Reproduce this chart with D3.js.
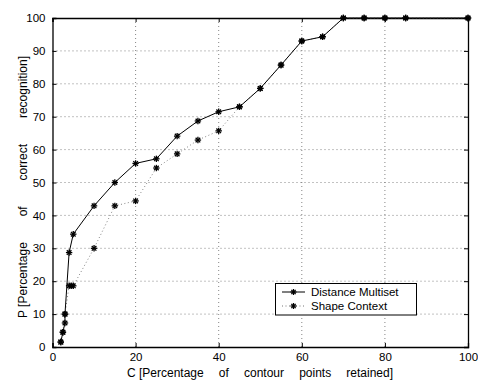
<!DOCTYPE html>
<html><head><meta charset="utf-8">
<script src="https://cdn.jsdelivr.net/npm/d3@7"></script>
<style>body{margin:0;background:#fff}svg{display:block}text{font-family:"Liberation Sans",Arial,sans-serif;fill:#000}</style>
</head><body><svg id="c" width="478" height="381"></svg>
<script>
const dmX = [2, 2.5, 3, 3, 4, 5, 10, 15, 20, 25, 30, 35, 40, 45, 50, 55, 60, 65, 70, 75, 80, 85, 100];
const dmY = [1.5, 4.5, 7.3, 10, 28.7, 34.3, 42.9, 50, 55.8, 57.2, 64.1, 68.7, 71.5, 73.0, 78.6, 85.7, 93.0, 94.3, 100, 100, 100, 100, 100];
const scX = [2, 2.5, 3, 4, 4.5, 5, 10, 15, 20, 25, 30, 35, 40, 45, 50, 55, 60, 65, 70, 75, 80, 85, 100];
const scY = [1.5, 4.5, 10, 18.6, 18.6, 18.6, 30, 42.9, 44.4, 54.4, 58.7, 62.9, 65.7, 73.0, 78.6, 85.7, 93.0, 94.3, 100, 100, 100, 100, 100];
const xTicks = [0, 20, 40, 60, 80, 100];
const yTicks = [0, 10, 20, 30, 40, 50, 60, 70, 80, 90, 100];
const seriesNames = ["Distance Multiset", "Shape Context"];
const xLabelWords = ["C [Percentage", "of", "contour", "points", "retained]"];
const yLabelWords = ["P [Percentage", "of", "correct", "recognition]"];

const svg = d3.select("#c");
const L = 52.5, R = 468, T = 18, B = 347;
const x = d3.scaleLinear().domain([0, 100]).range([L, R]);
const y = d3.scaleLinear().domain([0, 100]).range([B, T]);

// grid
const g = svg.append("g");
xTicks.slice(1, -1).forEach(t => g.append("line").attr("x1", x(t)).attr("x2", x(t)).attr("y1", T).attr("y2", B)
  .attr("stroke", "#666").attr("stroke-width", 0.8).attr("stroke-dasharray", "1,3"));
yTicks.slice(1, -1).forEach(t => g.append("line").attr("x1", L).attr("x2", R).attr("y1", y(t)).attr("y2", y(t))
  .attr("stroke", "#666").attr("stroke-width", 0.8).attr("stroke-dasharray", "1,3"));

// axes
const xa = svg.append("g").attr("transform", `translate(0,${B})`)
  .call(d3.axisBottom(x).tickValues(xTicks).tickSize(-4).tickPadding(6).tickFormat(d3.format("d")));
const ya = svg.append("g").attr("transform", `translate(${L},0)`)
  .call(d3.axisLeft(y).tickValues(yTicks).tickSize(-4).tickPadding(7).tickFormat(d3.format("d")));
const xt = svg.append("g").attr("transform", `translate(0,${T})`)
  .call(d3.axisTop(x).tickValues(xTicks).tickSize(-4).tickFormat(""));
const yr = svg.append("g").attr("transform", `translate(${R},0)`)
  .call(d3.axisRight(y).tickValues(yTicks).tickSize(-4).tickFormat(""));
[xa, ya, xt, yr].forEach(a => {
  a.select(".domain").attr("stroke", "#000").attr("stroke-width", 1.3);
  a.selectAll(".tick line").attr("stroke", "#000");
  a.selectAll("text").style("font-size", "11.5px").style("font-family", '"Liberation Sans",Arial,sans-serif');
});

// marker
function star(sel, cx, cy, r) {
  const gg = sel.append("g").attr("transform", `translate(${cx},${cy})`);
  const a = r * 0.72;
  [[-r,0,r,0],[0,-r,0,r],[-a,-a,a,a],[-a,a,a,-a]].forEach(p =>
    gg.append("line").attr("x1", p[0]).attr("y1", p[1]).attr("x2", p[2]).attr("y2", p[3])
      .attr("stroke", "#000").attr("stroke-width", 1.3));
}

const line = d3.line().x(d => x(d[0])).y(d => y(d[1]));
const sc = scX.map((v, i) => [v, scY[i]]);
const dm = dmX.map((v, i) => [v, dmY[i]]);
svg.append("path").datum(sc).attr("d", line).attr("fill", "none").attr("stroke", "#777")
  .attr("stroke-width", 0.9).attr("stroke-dasharray", "1,2.5");
sc.forEach(d => star(svg, x(d[0]), y(d[1]), 3.2));
svg.append("path").datum(dm).attr("d", line).attr("fill", "none").attr("stroke", "#000").attr("stroke-width", 1);
dm.forEach(d => star(svg, x(d[0]), y(d[1]), 3.2));

// legend
const lg = svg.append("g");
lg.append("rect").attr("x", 275.5).attr("y", 283.5).attr("width", 141).attr("height", 31.5)
  .attr("fill", "#fff").attr("stroke", "#000").attr("stroke-width", 1);
lg.append("line").attr("x1", 282).attr("x2", 305).attr("y1", 292).attr("y2", 292).attr("stroke", "#000");
star(lg, 293.5, 292, 3);
lg.append("line").attr("x1", 282).attr("x2", 305).attr("y1", 306).attr("y2", 306).attr("stroke", "#777")
  .attr("stroke-dasharray", "1,2.5");
star(lg, 293.5, 306, 3);
lg.append("text").attr("x", 311).attr("y", 296).style("font-size", "11.5px").text(seriesNames[0]);
lg.append("text").attr("x", 311).attr("y", 310).style("font-size", "11.5px").text(seriesNames[1]);

// justified labels: words spread evenly over a given length
function justified(parent, words, total) {
  const els = words.map(w => parent.append("text").style("font-size", "12px").text(w));
  const widths = els.map(e => e.node().getComputedTextLength());
  const gap = (total - d3.sum(widths)) / (words.length - 1);
  let pos = 0;
  els.forEach((e, i) => { e.attr("x", pos); pos += widths[i] + gap; });
}
justified(svg.append("g").attr("transform", "translate(127,377)"), xLabelWords, 266);
justified(svg.append("g").attr("transform", "translate(27,318) rotate(-90)"), yLabelWords, 262);
</script></body></html>
